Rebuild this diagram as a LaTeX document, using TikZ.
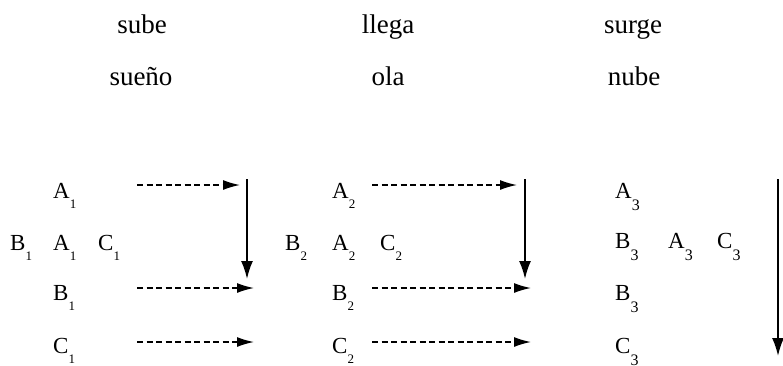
\documentclass[tikz,border=0pt]{standalone}
\usepackage{fontspec}
\setmainfont{Liberation Serif}
\usetikzlibrary{positioning,calc,arrows.meta}
\tikzset{
	word/.style={font=\fontsize{27}{31}\selectfont,inner sep=0pt,anchor=base},
	sym/.style={font=\fontsize{23}{27}\selectfont,inner sep=0pt,anchor=base west},
	pass/.style={draw,line width=1.5pt,dash pattern=on 6pt off 3.5pt,-{Latex[length=17pt,width=10pt]}},
	drop/.style={draw,line width=1.8pt,-{Latex[length=18pt,width=12pt]}},
}
\newcommand{\ix}[2]{#1\raisebox{-10.5pt}{\fontsize{13}{13}\selectfont #2}}
\newcommand{\iy}[2]{#1\raisebox{-12.5pt}{\fontsize{16}{16}\selectfont #2}}

\begin{document}
\begin{tikzpicture}[x=1pt,y=-1pt]
	\useasboundingbox (0,0) rectangle (783,365);
	\foreach \w/\x/\y [count=\i] in {sube/142/33,llega/388/33,surge/633/33,sueño/141/85,ola/388/85,nube/634/85}
	\node[word] (w\i) at (\x,\y) {\w};
	% first two stages
	\foreach \k/\x/\l/\r/\s/\t/\v/\e in {1/53/10/98/137/240/247/254,2/332/285/380/372/517/525/531} {
		\node[sym] (a\k) at (\x,198) {\ix{A}{\k}};
		\node[sym] (bl\k) at (\l,250) {\ix{B}{\k}};
		\node[sym] (am\k) at (\x,250) {\ix{A}{\k}};
		\node[sym] (cr\k) at (\r,250) {\ix{C}{\k}};
		\node[sym] (b\k) at (\x,300) {\ix{B}{\k}};
		\node[sym] (c\k) at (\x,353) {\ix{C}{\k}};
		\coordinate (sa\k) at (\s,185);
		\coordinate (ta\k) at (\t,185);
		\coordinate (sb\k) at (\s,288);
		\coordinate (tb\k) at (\e,288);
		\coordinate (sc\k) at (\s,342);
		\coordinate (tc\k) at (\e,342);
		\coordinate (top\k) at (\v,179);
		\coordinate (bot\k) at (\v,279);
		\draw[pass] (sa\k) -- (ta\k);
		\draw[pass] (sb\k) -- (tb\k);
		\draw[pass] (sc\k) -- (tc\k);
		\draw[drop] (top\k) -- (bot\k);
	}
	% last stage
	\node[sym] (a3) at (615,198) {\iy{A}{3}};
	\node[sym] (bl3) at (615,248) {\iy{B}{3}};
	\node[sym] (am3) at (668,248) {\iy{A}{3}};
	\node[sym] (cr3) at (717,248) {\iy{C}{3}};
	\node[sym] (b3) at (615,300) {\iy{B}{3}};
	\node[sym] (c3) at (615,353) {\iy{C}{3}};
	\coordinate (top3) at (778,179);
	\coordinate (bot3) at (778,356);
	\draw[drop] (top3) -- (bot3);
\end{tikzpicture}
\end{document}
